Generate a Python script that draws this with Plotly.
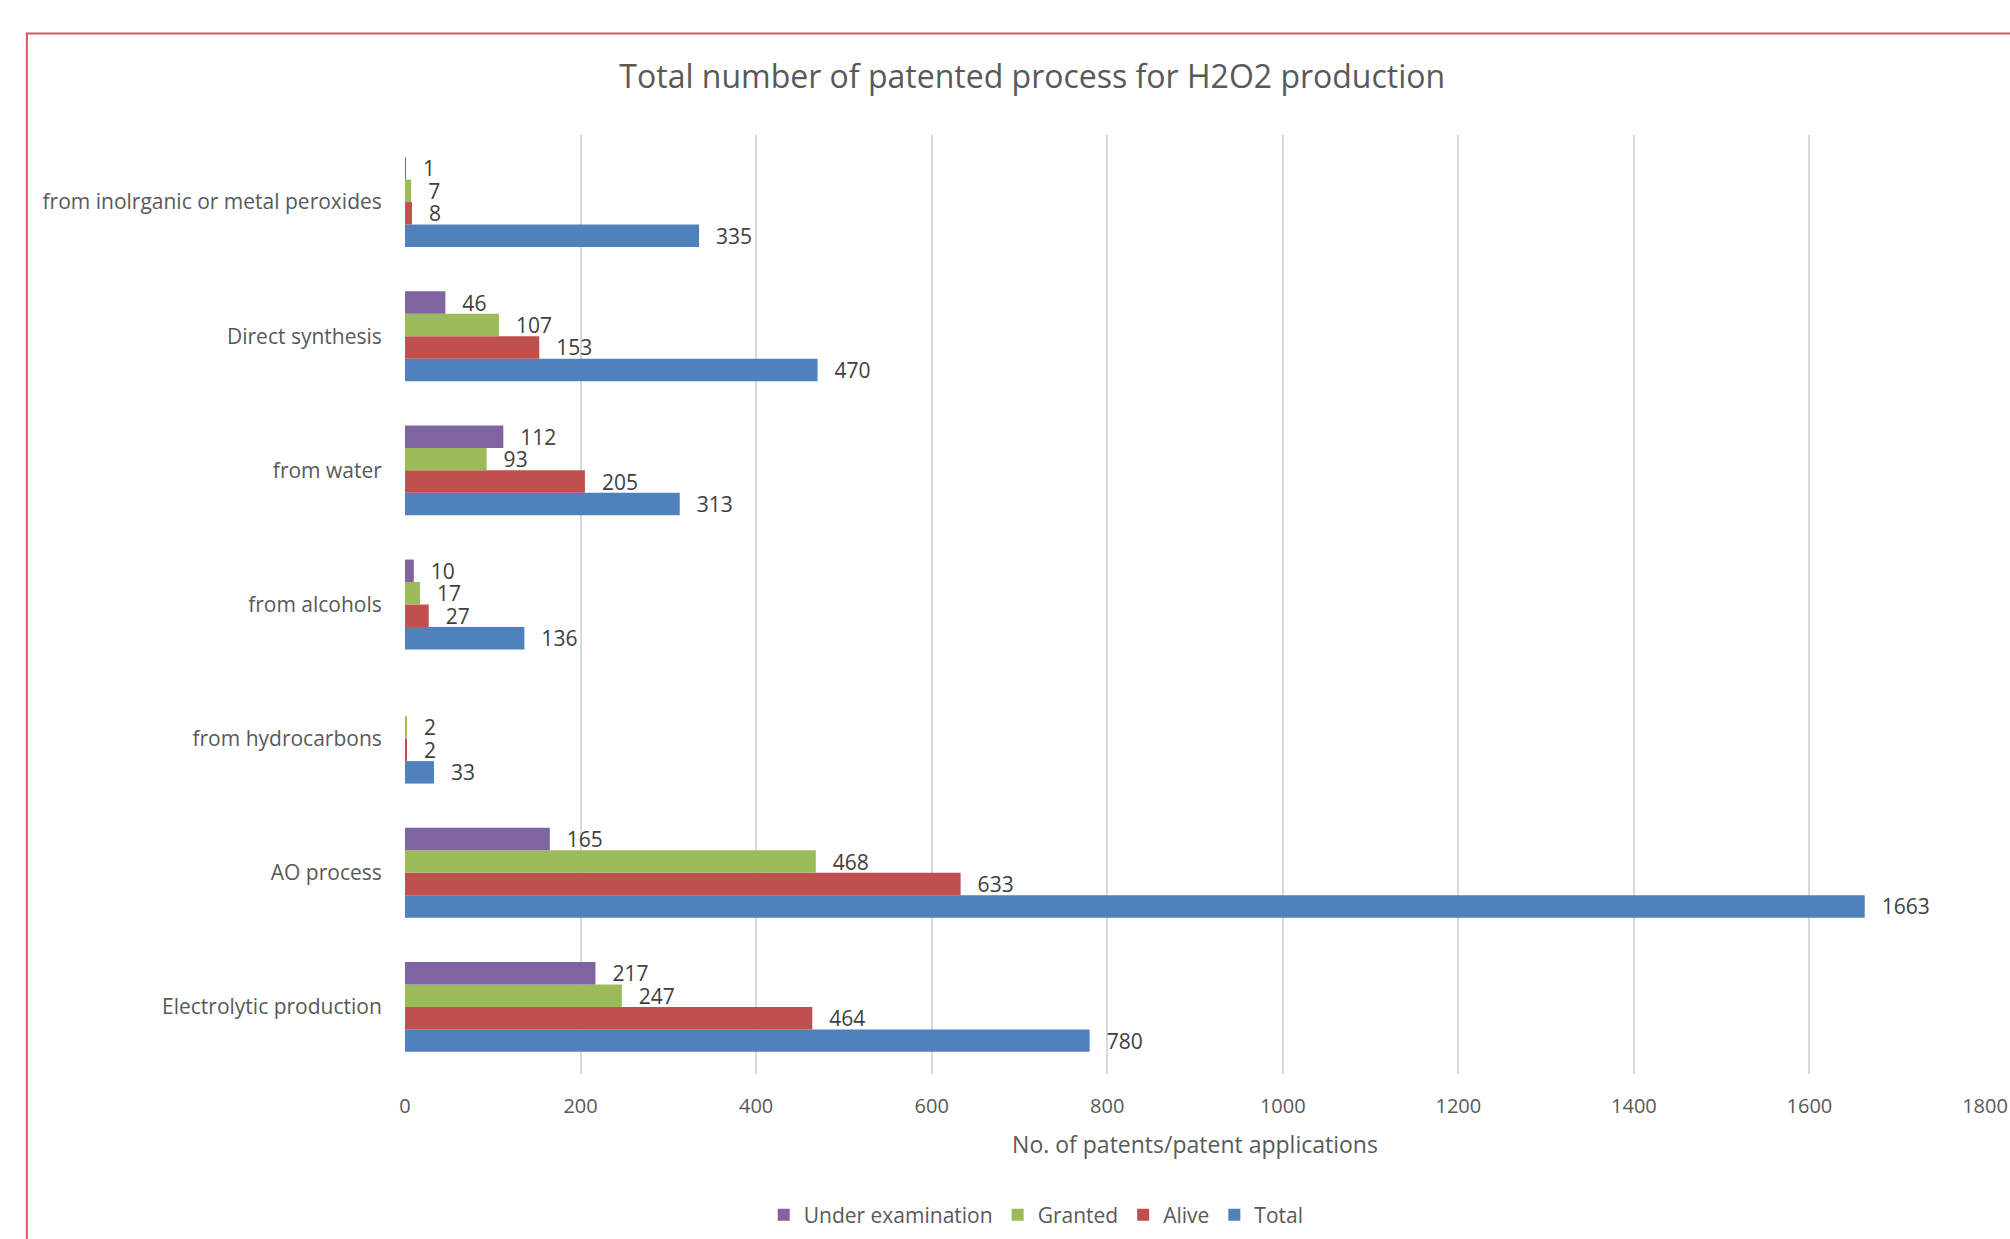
import plotly.graph_objects as go

categories = ["Electrolytic production", "AO process", "from hydrocarbons", "from alcohols",
              "from water", "Direct synthesis", "from inolrganic or metal peroxides"]
total = [780, 1663, 33, 136, 313, 470, 335]
alive = [464, 633, 2, 27, 205, 153, 8]
granted = [247, 468, 2, 17, 93, 107, 7]
under_exam = [217, 165, None, 10, 112, 46, 1]

series = [
    ("Total", total, "#4F81BD"),
    ("Alive", alive, "#C0504D"),
    ("Granted", granted, "#9BBB59"),
    ("Under examination", under_exam, "#8064A2"),
]

FONT = "Open Sans"
fig = go.Figure()
for name, vals, color in series:
    fig.add_trace(go.Bar(
        y=categories, x=vals, name=name, orientation="h",
        marker=dict(color=color, line=dict(width=0)),
        texttemplate="\u2002\u2009%{x}", textposition="outside",
        constraintext="none", cliponaxis=False,
        textfont=dict(family=FONT, size=21, color="#404040"),
    ))

fig.update_layout(
    width=2010, height=1239, autosize=False,
    margin=dict(l=405, r=25, t=135, b=165, autoexpand=False),
    paper_bgcolor="white", plot_bgcolor="white",
    barmode="group", bargap=0.33, bargroupgap=0,
    title=dict(text="Total number of patented process for H2O2 production",
               x=0.397, xref="paper", xanchor="center",
               y=1 - 77 / 1239, yref="container", yanchor="middle",
               font=dict(family=FONT, size=32, color="#595959")),
    legend=dict(orientation="h", traceorder="reversed",
                x=0.3995, xanchor="center",
                y=1 - 1215 / 1239, yref="container", yanchor="middle",
                font=dict(family=FONT, size=21, color="#595959")),
    xaxis=dict(range=[0, 1800], dtick=200, showgrid=True, gridcolor="#D9D9D9", gridwidth=1.5,
               zeroline=False, showline=False,
               ticks="outside", ticklen=14, tickcolor="rgba(0,0,0,0)",
               tickfont=dict(family=FONT, size=20, color="#595959"),
               title=dict(text="No. of patents/patent applications", standoff=18,
                          font=dict(family=FONT, size=23, color="#595959"))),
    yaxis=dict(type="category", categoryorder="array", categoryarray=categories,
               range=[-0.5, 6.5], showgrid=False, zeroline=False, showline=False,
               ticks="outside", ticklen=18, tickcolor="rgba(0,0,0,0)",
               tickfont=dict(family=FONT, size=21, color="#595959")),
)

fig.add_shape(type="rect", xref="paper", yref="paper",
              x0=(27 - 405) / 1579.5, x1=1.2, y0=-0.4, y1=(1074 - 33.5) / 939,
              line=dict(color="#CD5C5C", width=2), fillcolor="rgba(0,0,0,0)", layer="above")

fig.write_html("out.html")
